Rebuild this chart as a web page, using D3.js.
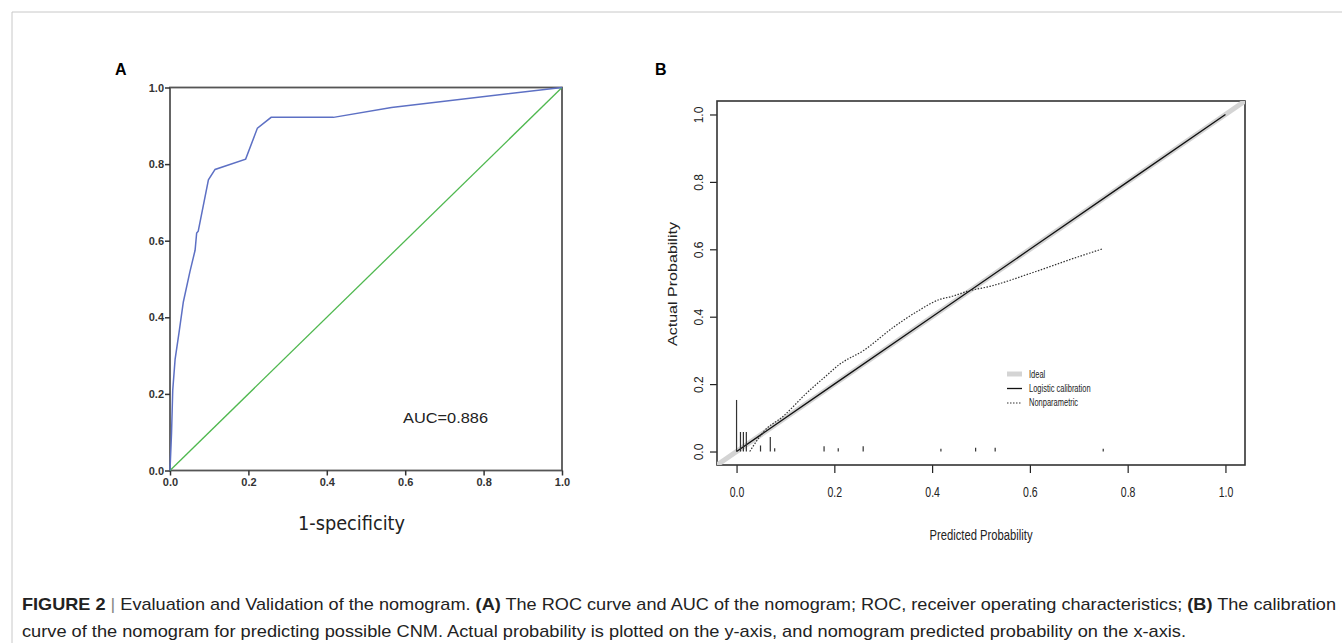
<!DOCTYPE html>
<html>
<head>
<meta charset="utf-8">
<script src="https://cdn.jsdelivr.net/npm/d3@7/dist/d3.min.js"></script>
<style>
  body { margin: 0; background: #fff; }
  svg { display: block; }
</style>
</head>
<body>
<div id="chart"></div>
<script>
// ---- data ----
// panel A: ROC curve
const rocFpr = [0, 0.004, 0.007, 0.013, 0.023, 0.034, 0.051, 0.064, 0.068, 0.072, 0.098, 0.115, 0.193, 0.223, 0.258, 0.417, 0.565, 1];
const rocTpr = [0, 0.10, 0.21, 0.29, 0.36, 0.44, 0.52, 0.575, 0.62, 0.625, 0.759, 0.786, 0.813, 0.894, 0.922, 0.922, 0.948, 1];
const rocTicks = [0, 0.2, 0.4, 0.6, 0.8, 1.0];
const aucLabel = "AUC=0.886";

// panel B: calibration
const logisticPred = [0, 0.2, 0.4, 0.6, 0.8, 1.0];
const logisticObs = [0, 0.2, 0.4, 0.6, 0.8, 1.0];
const nonparPred = [0.027, 0.056, 0.095, 0.143, 0.186, 0.209, 0.26, 0.323, 0.37, 0.417, 0.44, 0.471, 0.518, 0.604, 0.683, 0.75];
const nonparObs = [0.0, 0.06, 0.104, 0.173, 0.228, 0.257, 0.30, 0.371, 0.416, 0.452, 0.46, 0.475, 0.49, 0.53, 0.57, 0.602];
const rugX = [0, 0.008, 0.014, 0.02, 0.049, 0.069, 0.078, 0.179, 0.208, 0.259, 0.418, 0.489, 0.529, 0.75];
const rugH = [0.15, 0.055, 0.055, 0.055, 0.015, 0.04, 0.007, 0.013, 0.007, 0.013, 0.005, 0.008, 0.008, 0.005];
const calTicks = [0, 0.2, 0.4, 0.6, 0.8, 1.0];
const legendLabels = ["Ideal", "Logistic calibration", "Nonparametric"];

const W = 1342, H = 643;
const svg = d3.select("#chart").append("svg").attr("width", W).attr("height", H);

// figure frame
svg.append("line").attr("x1", 12).attr("x2", W).attr("y1", 12).attr("y2", 12)
  .attr("stroke", "#c8c8c8").attr("stroke-width", 1);
svg.append("line").attr("x1", 12).attr("x2", 12).attr("y1", 12).attr("y2", H)
  .attr("stroke", "#c8c8c8").attr("stroke-width", 1);

// panel letters
svg.append("text").attr("x", 115).attr("y", 75).text("A")
  .style("font", "bold 16px 'Liberation Sans', Arial, sans-serif");
svg.append("text").attr("x", 655).attr("y", 75).text("B")
  .style("font", "bold 16px 'Liberation Sans', Arial, sans-serif");

// ================= Panel A =================
const xA = d3.scaleLinear().domain([0, 1]).range([170, 562]);
const yA = d3.scaleLinear().domain([0, 1]).range([470.5, 87.5]);
const gA = svg.append("g");

// frame
gA.append("rect").attr("x", xA(0)).attr("y", yA(1))
  .attr("width", xA(1) - xA(0)).attr("height", yA(0) - yA(1))
  .attr("fill", "none").attr("stroke", "#555").attr("stroke-width", 1.8);

const axAx = gA.append("g").attr("transform", `translate(0,${yA(0)})`)
  .call(d3.axisBottom(xA).tickValues(rocTicks).tickFormat(d3.format(".1f")).tickSize(5).tickPadding(3));
const axAy = gA.append("g").attr("transform", `translate(${xA(0)},0)`)
  .call(d3.axisLeft(yA).tickValues(rocTicks).tickFormat(d3.format(".1f")).tickSize(5).tickPadding(1));
[axAx, axAy].forEach(a => {
  a.select(".domain").remove();
  a.selectAll(".tick line").attr("stroke", "#333").attr("stroke-width", 1.5);
  a.selectAll(".tick text").attr("fill", "#333")
    .style("font", "bold 11px 'Liberation Sans', Arial, sans-serif");
});

// diagonal reference
gA.append("line").attr("x1", xA(0)).attr("y1", yA(0)).attr("x2", xA(1)).attr("y2", yA(1))
  .attr("stroke", "#4fb84f").attr("stroke-width", 1.3);

// ROC curve
const rocPts = rocFpr.map((d, i) => [d, rocTpr[i]]);
gA.append("path").datum(rocPts)
  .attr("d", d3.line().x(d => xA(d[0])).y(d => yA(d[1])))
  .attr("fill", "none").attr("stroke", "#5d70c4").attr("stroke-width", 1.5);

gA.append("text").attr("x", 403).attr("y", 423).text(aucLabel)
  .attr("textLength", 85).attr("lengthAdjust", "spacingAndGlyphs")
  .style("font", "15px 'Liberation Sans', Arial, sans-serif").attr("fill", "#222");

gA.append("text").attr("x", 298).attr("y", 530).text("1-specificity")
  .attr("textLength", 107).attr("lengthAdjust", "spacingAndGlyphs")
  .style("font", "19px 'DejaVu Sans Condensed', 'Liberation Sans', sans-serif").attr("fill", "#222");

// ================= Panel B =================
const xB = d3.scaleLinear().domain([-0.04, 1.04]).range([717, 1245]);
const yB = d3.scaleLinear().domain([-0.04, 1.04]).range([465, 101]);
const gB = svg.append("g");

gB.append("clipPath").attr("id", "clipB").append("rect")
  .attr("x", xB(-0.04)).attr("y", yB(1.04))
  .attr("width", xB(1.04) - xB(-0.04)).attr("height", yB(-0.04) - yB(1.04));

const fontB = "'Liberation Sans', Arial, sans-serif";

const axBx = gB.append("g").attr("transform", `translate(0,${yB(-0.04)})`)
  .call(d3.axisBottom(xB).tickValues(calTicks).tickFormat(d3.format(".1f")).tickSize(8).tickPadding(14));
const axBy = gB.append("g").attr("transform", `translate(${xB(-0.04)},0)`)
  .call(d3.axisLeft(yB).tickValues(calTicks).tickFormat(d3.format(".1f")).tickSize(7).tickPadding(10));
[axBx, axBy].forEach(a => {
  a.select(".domain").remove();
  a.selectAll(".tick line").attr("stroke", "#222").attr("stroke-width", 1.2);
});
// condensed look: scale each label around its tick
axBx.selectAll(".tick text").attr("fill", "#222")
  .style("font-family", fontB).style("font-size", "14px")
  .attr("transform", "scale(0.75,1)");
axBy.selectAll(".tick text").attr("fill", "#222")
  .style("font-family", fontB).style("font-size", "12px")
  .attr("text-anchor", "middle").attr("dy", 0)
  .attr("transform", "translate(-14,0) rotate(-90)").attr("x", 0).attr("y", 0);

// box
gB.append("rect").attr("x", xB(-0.04)).attr("y", yB(1.04))
  .attr("width", xB(1.04) - xB(-0.04)).attr("height", yB(-0.04) - yB(1.04))
  .attr("fill", "none").attr("stroke", "#333").attr("stroke-width", 1.6);

const plotB = gB.append("g").attr("clip-path", "url(#clipB)");

// ideal line
plotB.append("line").attr("x1", xB(-0.04)).attr("y1", yB(-0.04)).attr("x2", xB(1.04)).attr("y2", yB(1.04))
  .attr("stroke", "#d4d4d4").attr("stroke-width", 5);

// logistic calibration
const lineB = d3.line().x(d => xB(d[0])).y(d => yB(d[1]));
plotB.append("path").datum(logisticPred.map((d, i) => [d, logisticObs[i]]))
  .attr("d", lineB).attr("fill", "none").attr("stroke", "#111").attr("stroke-width", 1.3);

// nonparametric
plotB.append("path").datum(nonparPred.map((d, i) => [d, nonparObs[i]]))
  .attr("d", d3.line().curve(d3.curveMonotoneX).x(d => xB(d[0])).y(d => yB(d[1])))
  .attr("fill", "none").attr("stroke", "#333").attr("stroke-width", 1.2).attr("stroke-dasharray", "1.5,1.5");

// rug spikes
plotB.selectAll("line.rug").data(rugX).enter().append("line").attr("class", "rug")
  .attr("x1", d => xB(d)).attr("x2", d => xB(d))
  .attr("y1", yB(0)).attr("y2", (d, i) => yB(rugH[i]) - 1)
  .attr("stroke", "#333").attr("stroke-width", 1.2);

// legend
const leg = gB.append("g").attr("transform", "translate(1007,374)");
legendLabels.forEach((lab, i) => {
  const yy = i * 14.5;
  const ln = leg.append("line").attr("x1", 0).attr("x2", 15).attr("y1", yy).attr("y2", yy);
  if (i === 0) ln.attr("stroke", "#d4d4d4").attr("stroke-width", 5);
  else if (i === 1) ln.attr("stroke", "#111").attr("stroke-width", 1.3);
  else ln.attr("stroke", "#333").attr("stroke-width", 1.2).attr("stroke-dasharray", "1.5,1.5");
  leg.append("text").attr("x", 22).attr("y", yy + 3.5).text(lab)
    .attr("transform", `translate(${22 * 0.25},0) scale(0.75,1)`)
    .style("font-family", fontB).style("font-size", "10px").attr("fill", "#222");
});

// axis titles
gB.append("text").attr("x", 981).attr("y", 540).attr("text-anchor", "middle")
  .text("Predicted Probability").attr("textLength", 103).attr("lengthAdjust", "spacingAndGlyphs")
  .style("font-family", fontB).style("font-size", "14px").attr("fill", "#222");
gB.append("text").attr("transform", "translate(677,284) rotate(-90)").attr("text-anchor", "middle")
  .text("Actual Probability").attr("textLength", 124).attr("lengthAdjust", "spacingAndGlyphs")
  .style("font-family", fontB).style("font-size", "13px").attr("fill", "#222");

// ================= caption =================
const capFont = "'Liberation Sans', Arial, sans-serif";
const cap1 = svg.append("text").attr("x", 22).attr("y", 610)
  .attr("textLength", 1314).attr("lengthAdjust", "spacingAndGlyphs")
  .style("font-family", capFont).style("font-size", "17px").attr("fill", "#222");
cap1.append("tspan").text("FIGURE 2").style("font-weight", "bold");
cap1.append("tspan").text(" | ").attr("fill", "#888");
cap1.append("tspan").text("Evaluation and Validation of the nomogram. ");
cap1.append("tspan").text("(A)").style("font-weight", "bold");
cap1.append("tspan").text(" The ROC curve and AUC of the nomogram; ROC, receiver operating characteristics; ");
cap1.append("tspan").text("(B)").style("font-weight", "bold");
cap1.append("tspan").text(" The calibration");

svg.append("text").attr("x", 22).attr("y", 637)
  .attr("textLength", 1164).attr("lengthAdjust", "spacingAndGlyphs")
  .style("font-family", capFont).style("font-size", "17px").attr("fill", "#222")
  .text("curve of the nomogram for predicting possible CNM. Actual probability is plotted on the y-axis, and nomogram predicted probability on the x-axis.");
</script>
</body>
</html>
